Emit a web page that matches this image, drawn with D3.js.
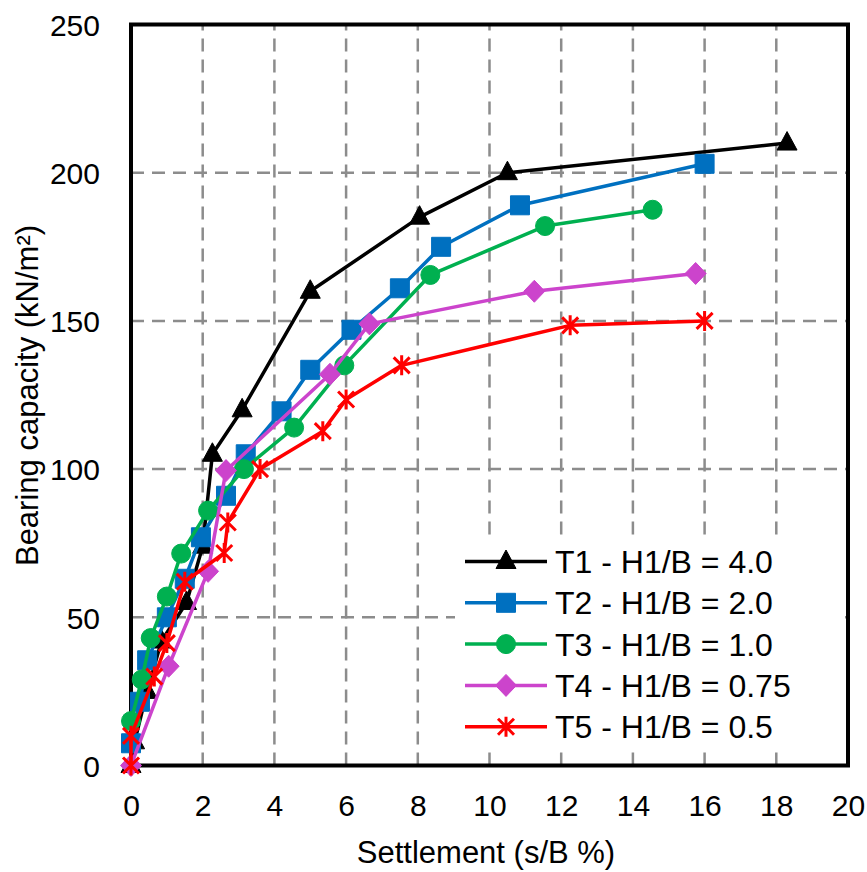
<!DOCTYPE html>
<html>
<head>
<meta charset="utf-8">
<script src="https://cdn.jsdelivr.net/npm/d3@7"></script>
<style>
  body { margin: 0; background: #fff; }
  svg { display: block; }
  text { font-family: "Liberation Sans", Arial, sans-serif; fill: #000; }
</style>
</head>
<body>
<svg id="chart"></svg>
<script>
// settlement (s/B %) and bearing capacity (kN/m2)
const t1X = [0, 0.1, 0.45, 0.85, 1.55, 2.0, 2.27, 3.1, 5.0, 8.05, 10.5, 18.3];
const t1Y = [0, 8, 25, 42, 55, 74, 105, 120, 160, 185, 200, 210];
const t2X = [0, 0.25, 0.45, 1.0, 1.5, 1.95, 2.65, 3.2, 4.2, 5.0, 6.15, 7.5, 8.65, 10.85, 16.0];
const t2Y = [7.5, 21.5, 35.5, 50, 63, 77, 91, 105, 119.5, 133.5, 147, 161, 175, 189, 203];
const t3X = [0, 0.3, 0.55, 1.0, 1.4, 2.15, 3.15, 4.55, 5.95, 8.35, 11.55, 14.55];
const t3Y = [15, 29, 43, 57, 71.5, 86, 100, 114, 135, 165.5, 182, 187.5];
const t4X = [0, 1.05, 2.15, 2.65, 5.55, 6.65, 11.25, 15.75];
const t4Y = [0, 33.5, 65.5, 99.5, 132, 149, 160, 166];
const t5X = [0, 0, 0.65, 1.0, 1.5, 2.6, 2.7, 3.6, 5.35, 6.0, 7.55, 12.25, 16.0];
const t5Y = [0, 10, 30, 41.3, 62, 71.7, 82, 100, 112.8, 123.5, 135, 148.5, 150];

const seriesNames = ["T1 - H1/B = 4.0", "T2 - H1/B = 2.0", "T3 - H1/B = 1.0", "T4 - H1/B = 0.75", "T5 - H1/B = 0.5"];
const xTicks = [0, 2, 4, 6, 8, 10, 12, 14, 16, 18, 20];
const yTicks = [0, 50, 100, 150, 200, 250];

const width = 867, height = 872;
const plot = {left: 131, right: 848, top: 24.5, bottom: 765.5};

const svg = d3.select("#chart")
    .attr("width", width)
    .attr("height", height);

const x = d3.scaleLinear().domain([0, 20]).range([plot.left, plot.right]);
const y = d3.scaleLinear().domain([0, 250]).range([plot.bottom, plot.top]);

// marker shapes, drawn as paths centred on 0,0
function triangle(p) { p.moveTo(0, -11.5); p.lineTo(10, 7); p.lineTo(-10, 7); p.closePath(); }
function square(p) { p.rect(-9.5, -9.5, 19, 19); }
function circle(p) { p.arc(0, 0, 9.5, 0, 2 * Math.PI); }
function diamond(p) { p.moveTo(0, -11); p.lineTo(10.5, 0); p.lineTo(0, 11); p.lineTo(-10.5, 0); p.closePath(); }
function star(p) {
    p.moveTo(-8, -8); p.lineTo(8, 8);
    p.moveTo(-8, 8); p.lineTo(8, -8);
    p.moveTo(0, -10); p.lineTo(0, 10);
}
function shapePath(fn) { const p = d3.path(); fn(p); return p.toString(); }

const series = [
    {name: seriesNames[0], xs: t1X, ys: t1Y, color: "#000000", shape: triangle, filled: true},
    {name: seriesNames[1], xs: t2X, ys: t2Y, color: "#0070C0", shape: square, filled: true},
    {name: seriesNames[2], xs: t3X, ys: t3Y, color: "#00B050", shape: circle, filled: true},
    {name: seriesNames[3], xs: t4X, ys: t4Y, color: "#CC44CC", shape: diamond, filled: true},
    {name: seriesNames[4], xs: t5X, ys: t5Y, color: "#FF0000", shape: star, filled: false}
];

// grid
const grid = svg.append("g")
    .attr("stroke", "#8c8c8c")
    .attr("stroke-width", 2.5)
    .attr("stroke-dasharray", "13,8");

grid.selectAll(".gx")
    .data(xTicks.filter(d => d > 0 && d < 20))
    .join("line")
    .attr("x1", d => x(d)).attr("x2", d => x(d))
    .attr("y1", plot.bottom).attr("y2", plot.top);

grid.selectAll(".gy")
    .data(yTicks.filter(d => d > 0 && d < 250))
    .join("line")
    .attr("y1", d => y(d)).attr("y2", d => y(d))
    .attr("x1", plot.left).attr("x2", plot.right);

// axes
const xAxis = svg.append("g")
    .attr("transform", `translate(0,${plot.bottom})`)
    .call(d3.axisBottom(x).tickValues(xTicks).tickSize(0).tickPadding(29));
xAxis.select(".domain").remove();
xAxis.selectAll("text").attr("font-size", 30).attr("fill", "#000")
    .attr("font-family", '"Liberation Sans", Arial, sans-serif');

const yAxis = svg.append("g")
    .attr("transform", `translate(${plot.left},0)`)
    .call(d3.axisLeft(y).tickValues(yTicks).tickSize(0).tickPadding(31));
yAxis.select(".domain").remove();
yAxis.selectAll("text").attr("font-size", 30).attr("fill", "#000").attr("dy", "0.36em")
    .attr("font-family", '"Liberation Sans", Arial, sans-serif');

// plot border
svg.append("rect")
    .attr("x", plot.left).attr("y", plot.top)
    .attr("width", plot.right - plot.left)
    .attr("height", plot.bottom - plot.top)
    .attr("fill", "none")
    .attr("stroke", "#000")
    .attr("stroke-width", 4);

// series
const line = d3.line().x(d => x(d[0])).y(d => y(d[1]));

series.forEach(s => {
    const pts = s.xs.map((v, i) => [v, s.ys[i]]);
    svg.append("path")
        .datum(pts)
        .attr("d", line)
        .attr("fill", "none")
        .attr("stroke", s.color)
        .attr("stroke-width", 3.5)
        .attr("stroke-linejoin", "round");
    svg.append("g").selectAll("path")
        .data(pts)
        .join("path")
        .attr("transform", d => `translate(${x(d[0])},${y(d[1])})`)
        .attr("d", shapePath(s.shape))
        .attr("fill", s.filled ? s.color : "none")
        .attr("stroke", s.color)
        .attr("stroke-width", s.filled ? 1 : 3);
});

// legend
const legend = svg.append("g");
legend.append("rect")
    .attr("x", 455).attr("y", 538)
    .attr("width", 390).attr("height", 210)
    .attr("fill", "#fff");

series.forEach((s, i) => {
    const ly = 561.5 + i * 41.3;
    legend.append("line")
        .attr("x1", 465).attr("x2", 547)
        .attr("y1", ly).attr("y2", ly)
        .attr("stroke", s.color)
        .attr("stroke-width", 3.5);
    legend.append("path")
        .attr("transform", `translate(506,${ly})`)
        .attr("d", shapePath(s.shape))
        .attr("fill", s.filled ? s.color : "none")
        .attr("stroke", s.color)
        .attr("stroke-width", s.filled ? 1 : 3);
    legend.append("text")
        .attr("x", 555).attr("y", ly)
        .attr("dy", "0.36em")
        .attr("font-size", 32)
        .text(s.name);
});

// axis titles
svg.append("text")
    .attr("x", 486).attr("y", 863)
    .attr("text-anchor", "middle")
    .attr("font-size", 31)
    .text("Settlement (s/B %)");

svg.append("text")
    .attr("transform", "translate(38,395.5) rotate(-90)")
    .attr("text-anchor", "middle")
    .attr("font-size", 31)
    .text("Bearing capacity (kN/m²)");
</script>
</body>
</html>
